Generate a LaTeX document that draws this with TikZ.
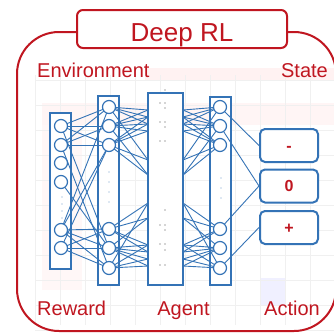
\documentclass[tikz,border=0pt]{standalone}
\usepackage{fontspec}
\setmainfont{Liberation Sans}
\definecolor{rlred}{RGB}{192,22,32}
\definecolor{nnblue}{RGB}{52,115,182}
\pgfdeclarelayer{bg}
\pgfdeclarelayer{mid}
\pgfsetlayers{bg,mid,main}
\begin{document}
\begin{tikzpicture}[x=1pt,y=-1pt,
  neuron/.style={circle,draw=nnblue,line width=1.2pt,fill=white,minimum size=13pt,inner sep=0pt},
  layerbox/.style={draw=nnblue,line width=1.2pt,fill=white,inner sep=0pt,minimum width=21pt},
  link/.style={nnblue,line width=0.9pt},
  outbox/.style={draw=nnblue,line width=2pt,rounded corners=5pt,fill=white,minimum width=58pt,minimum height=33pt,text=rlred,font=\bfseries\fontsize{16}{16}\selectfont,text height=11.5pt,text depth=0pt},
  lbl/.style={text=rlred,font=\fontsize{20}{20}\selectfont,inner sep=0pt},
  tiny/.style={fill=black!70,draw=none,circle,inner sep=0pt,minimum size=1.3pt},
  vdot/.style={fill=nnblue!70,draw=none,circle,inner sep=0pt,minimum size=1.2pt}]
\useasboundingbox (0,0) rectangle (334,333);

\begin{pgfonlayer}{bg}
  \clip (0,0) rectangle (334,333);
  \fill[white] (0,0) rectangle (334,333);
  % faint background
  \fill[red!5] (145,68) rectangle (334,80);
  \fill[red!4] (42,103) rectangle (334,125);
  \fill[red!3] (42,125) rectangle (82,290);
  \fill[blue!6] (260,278) rectangle (285,305);
  \foreach \gx in {35,60,...,335} \draw[gray!12,line width=0.7pt] (\gx,75) -- (\gx,325);
  \foreach \gy in {80,105,...,330} \draw[gray!12,line width=0.7pt] (35,\gy) -- (334,\gy);
  % outer frame
  \draw[rlred,line width=2pt,rounded corners=42pt] (17,32) rectangle (336,331);
  % layer boxes
  \node[layerbox,minimum height=156pt] (L1) at (60.5,191) {};
  \node[layerbox,minimum height=189pt] (L2) at (108.5,190.5) {};
  \node[layerbox,minimum width=35pt,minimum height=192pt] (AG) at (165.5,189) {};
  \node[layerbox,minimum height=188pt] (L4) at (220.5,191) {};
\end{pgfonlayer}

% title and labels
\node[draw=rlred,line width=2pt,rounded corners=6pt,fill=white,minimum width=210pt,minimum height=38pt,text=rlred,font=\fontsize{26}{26}\selectfont,text height=24pt,text depth=0pt,inner sep=0pt] (title) at (182,29) {Deep RL};
\node[lbl,anchor=base west] (env) at (37,77) {Environment};
\node[lbl,anchor=base east] (state) at (328,77) {State};
\node[lbl,anchor=base west] (reward) at (37,315) {Reward};
\node[lbl,anchor=base] (agent) at (183.5,315) {Agent};
\node[lbl,anchor=base east] (action) at (320,315) {Action};

% neurons
\foreach \i/\yy in {1/126,2/145,3/163,4/182,5/230,6/248}
  \node[neuron] (a\i) at (61,\yy) {};
\foreach \i/\yy in {1/107,2/126,3/145,4/229,5/248,6/268} {
  \node[neuron] (b\i) at (109,\yy) {};
  \node[neuron] (d\i) at (220,\yy) {};
}
% output boxes
\node[outbox] (om) at (289,145.5) {-};
\node[outbox] (oz) at (289,186) {0};
\node[outbox] (op) at (289,227.5) {+};

% agent edge points
\foreach \i/\yy in {1/110,2/117,3/124,4/131,5/160,6/175,7/203,8/218,9/245,10/252,11/259,12/266} {
  \coordinate (l\i) at (148,\yy);
  \coordinate (r\i) at (183,\yy);
}

% dots
\foreach \px/\py in {165/90,160/103,165/103,165/108,160/122,165/122,165/127,160/141,165/141,165/210,160/225,165/225,165/230,160/244,165/244,165/250,160/265,165/265}
  \node[tiny] at (\px,\py) {};
\foreach \py in {197,204,211,218} \node[vdot] at (62,\py) {};
\foreach \py in {172,182,192,202} \node[vdot] at (109,\py) {};
\foreach \py in {178,188,198} \node[vdot] at (221,\py) {};

\begin{pgfonlayer}{mid}
  % layer 1 -> layer 2
  \foreach \s/\t in {1/1,1/2,1/3,1/5,2/1,2/2,2/3,2/6,4/5,5/1,5/3,5/4,5/5,5/6,6/3,6/4,6/5,6/6}
    \draw[link] (a\s.center) -- (b\t.center);
  % layer 2 -> agent
  \foreach \s/\t in {1/1,1/2,1/3,1/5,2/1,2/2,2/3,2/4,2/6,3/2,3/3,3/4,3/5,3/6,4/7,4/8,4/9,4/10,5/8,5/9,5/10,5/11,5/12,6/7,6/9,6/11,6/12}
    \draw[link] (b\s.center) -- (l\t);
  % agent -> layer 4
  \foreach \s/\t in {1/1,2/1,3/1,5/1,1/2,2/2,3/2,4/2,6/2,2/3,3/3,4/3,5/3,6/3,7/4,8/4,9/4,10/4,8/5,9/5,10/5,11/5,12/5,7/6,9/6,11/6,12/6}
    \draw[link] (r\s) -- (d\t.center);
  % layer 4 -> outputs
  \draw[link] (d1.center) -- (om.west);
  \draw[link] (d2.center) -- (oz.west);
  \draw[link] (d4.center) -- (oz.west);
  \draw[link] (d6.center) -- (op.west);
\end{pgfonlayer}
\end{tikzpicture}
\end{document}
